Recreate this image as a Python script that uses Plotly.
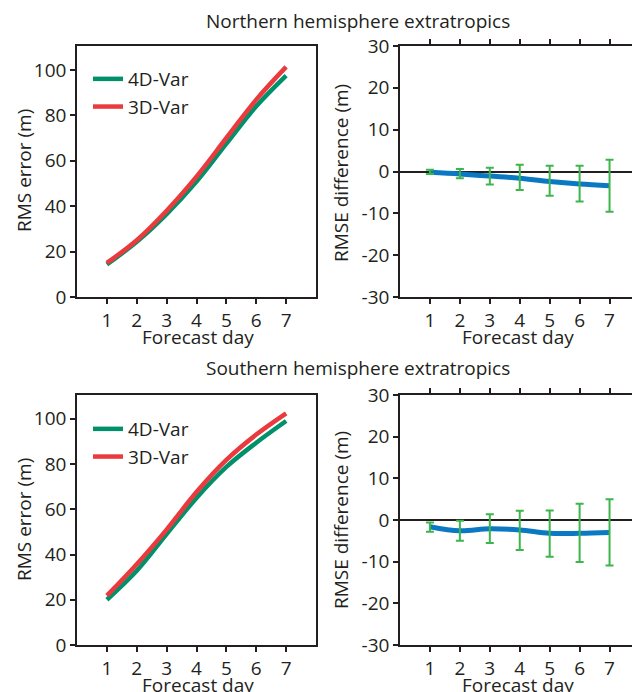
import plotly.graph_objects as go

days = [1, 2, 3, 4, 5, 6, 7]
diff_ticks = [-30, -20, -10, 0, 10, 20, 30]
diff_ticklabels = ["-30", "-20", "-10", "0", "10", "20", "30"]

# Northern hemisphere
nh_4dvar = [14.3, 24.3, 36.5, 50.8, 67.5, 84.0, 97.5]
nh_3dvar = [15.0, 25.0, 38.0, 53.0, 70.0, 86.9, 101.3]
nh_diff = [-0.2, -0.6, -1.1, -1.6, -2.4, -3.0, -3.4]
nh_err_hi = [0.4, 0.6, 0.9, 1.6, 1.4, 1.4, 2.8]
nh_err_lo = [-0.6, -1.6, -3.1, -4.4, -5.8, -7.2, -9.6]

# Southern hemisphere
sh_4dvar = [20.0, 32.8, 49.0, 65.0, 78.7, 89.4, 99.0]
sh_3dvar = [21.8, 35.7, 51.0, 67.6, 81.8, 93.0, 102.4]
sh_diff = [-1.6, -2.6, -2.1, -2.4, -3.2, -3.2, -3.0]
sh_err_hi = [-0.6, -0.2, 1.4, 2.2, 2.3, 3.9, 5.0]
sh_err_lo = [-2.8, -5.0, -5.5, -7.2, -8.8, -10.1, -10.9]

GREEN = "#00916b"
RED = "#ea3a3e"
BLUE = "#0a78c2"
EGREEN = "#3cb54a"
FONT = "Open Sans"
INK = "#231f20"
FS = 19

W, H = 632, 692
def px(x):
    return x / W
def py(y):
    return 1 - y / H

fig = go.Figure()

def add_rms(xa, ya, v4, v3, legend):
    fig.add_trace(go.Scatter(x=days, y=v4, mode="lines", name="4D-Var",
                             line=dict(color=GREEN, width=4.5, shape="spline"),
                             xaxis=xa, yaxis=ya, legend=legend))
    fig.add_trace(go.Scatter(x=days, y=v3, mode="lines", name="3D-Var",
                             line=dict(color=RED, width=4.5, shape="spline"),
                             xaxis=xa, yaxis=ya, legend=legend))

def add_diff(xa, ya, d, hi, lo):
    fig.add_trace(go.Scatter(x=days, y=d, mode="lines",
                             line=dict(color=BLUE, width=5, shape="spline"),
                             xaxis=xa, yaxis=ya, showlegend=False))
    fig.add_trace(go.Scatter(x=days, y=d, mode="markers",
                             marker=dict(size=1, color="rgba(0,0,0,0)"),
                             error_y=dict(type="data", symmetric=False,
                                          array=[h - m for h, m in zip(hi, d)],
                                          arrayminus=[m - l for l, m in zip(lo, d)],
                                          color=EGREEN, thickness=2, width=4),
                             xaxis=xa, yaxis=ya, showlegend=False))

add_rms("x", "y", nh_4dvar, nh_3dvar, "legend")
add_diff("x2", "y2", nh_diff, nh_err_hi, nh_err_lo)
add_rms("x3", "y3", sh_4dvar, sh_3dvar, "legend2")
add_diff("x4", "y4", sh_diff, sh_err_hi, sh_err_lo)

tickfont = dict(family=FONT, size=FS, color=INK)

def xax(dom, anchor, rng, mirror):
    return dict(domain=dom, anchor=anchor, range=rng, tickvals=days,
                showline=True, linecolor=INK, linewidth=1.5, mirror=mirror,
                ticks="outside", ticklen=5, tickwidth=1.5, tickcolor=INK,
                showgrid=False, zeroline=False, tickfont=tickfont, automargin=False)

def yax(dom, anchor, rng, mirror, zero, tv=None, tt=None, dtick=None):
    d = dict(domain=dom, anchor=anchor, range=rng,
             showline=True, linecolor=INK, linewidth=1.5, mirror=mirror,
             ticks="outside", ticklen=5, tickwidth=1.5, tickcolor=INK,
             showgrid=False, zeroline=zero, zerolinecolor=INK, zerolinewidth=1.5,
             tickfont=tickfont, automargin=False)
    if tv is not None:
        d.update(tickvals=tv, ticktext=tt)
    else:
        d.update(dtick=dtick)
    return d

top = [py(297), py(46)]
bot = [py(645), py(395)]
left = [px(77), px(316)]
right = [px(400), 1.0]

def ann(text, x, y, angle=0):
    return dict(text=text, x=px(x), y=py(y), xref="paper", yref="paper",
                xanchor="center", yanchor="middle", showarrow=False, textangle=angle,
                font=dict(family=FONT, size=FS, color=INK))

fig.update_layout(
    width=W, height=H,
    margin=dict(l=0, r=0, t=0, b=0, autoexpand=False),
    paper_bgcolor="white", plot_bgcolor="white",
    font=dict(family=FONT, color=INK),
    xaxis=xax(left, "y", [0, 8], True),
    yaxis=yax(top, "x", [0, 110.5], True, False, dtick=20),
    xaxis2=xax(right, "y2", [0, 7.75], "allticks"),
    yaxis2=yax(top, "x2", [-30, 30], False, True, diff_ticks, diff_ticklabels),
    xaxis3=xax(left, "y3", [0, 8], True),
    yaxis3=yax(bot, "x3", [0, 110.5], True, False, dtick=20),
    xaxis4=xax(right, "y4", [0, 7.75], "allticks"),
    yaxis4=yax(bot, "x4", [-30, 30], False, True, diff_ticks, diff_ticklabels),
    legend=dict(x=px(88), y=py(60), xanchor="left", yanchor="top",
                bgcolor="rgba(0,0,0,0)", font=dict(family=FONT, size=FS, color=INK),
                tracegroupgap=0, itemwidth=30),
    legend2=dict(x=px(88), y=py(410), xanchor="left", yanchor="top",
                 bgcolor="rgba(0,0,0,0)", font=dict(family=FONT, size=FS, color=INK),
                 tracegroupgap=0, itemwidth=30),
    annotations=[
        ann("Northern hemisphere extratropics", 358, 21),
        ann("Southern hemisphere extratropics", 358, 368),
        ann("Forecast day", 198, 337),
        ann("Forecast day", 518, 337),
        ann("Forecast day", 198, 685),
        ann("Forecast day", 518, 685),
        ann("RMS error (m)", 24, 171, -90),
        ann("RMS error (m)", 24, 520, -90),
        ann("RMSE difference (m)", 341, 173, -90),
        ann("RMSE difference (m)", 341, 520, -90),
    ],
)

fig.write_html("out.html")
